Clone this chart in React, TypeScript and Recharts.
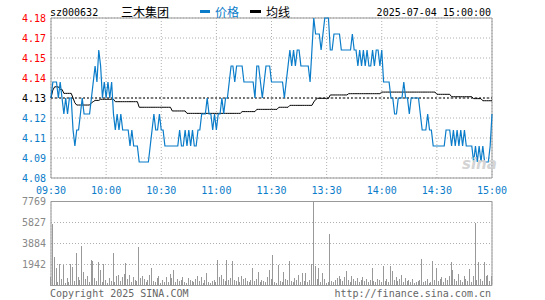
import React from "react";
import {
  ComposedChart,
  Line,
  Bar,
  XAxis,
  YAxis,
  CartesianGrid,
  ReferenceLine,
  ReferenceArea,
} from "recharts";

// Sina-style intraday chart colours.
const BLUE = "#0a7cc9";
const RED = "#ff0000";
const GRAY = "#999999";
const GRID = "#b0b0b0";
const MONO = "'DejaVu Sans Mono', monospace";
const CJK = "'Noto Sans CJK SC', sans-serif";

const PREV_CLOSE = 4.13;

// Minute index 0..240 (09:30-11:30, 13:00-15:00).
const timeTicks = [0, 30, 60, 90, 120, 150, 180, 210, 240];
const timeLabels = ["09:30", "10:00", "10:30", "11:00", "11:30", "13:30", "14:00", "14:30", "15:00"];

const priceTicks = [4.08, 4.0925, 4.105, 4.1175, 4.13, 4.1425, 4.155, 4.1675, 4.18];
const priceTickLabels = ["4.08", "4.09", "4.11", "4.12", "4.13", "4.14", "4.15", "4.17", "4.18"];
const pctTickLabels = ["-1.21%", "-0.91%", "-0.61%", "-0.30%", "0.00%", "+0.30%", "+0.61%", "+0.91%", "+1.21%"];

const volTicks = [0, 1942, 3884, 5827, 7769];
const volTickLabels = ["", "1942", "3884", "5827", "7769"];

// Minute close price.
const prices = [
  4.13, 4.14, 4.14, 4.14, 4.13, 4.14, 4.13, 4.12, 4.13, 4.12,
  4.13, 4.13, 4.11, 4.10, 4.11, 4.11, 4.12, 4.13, 4.12, 4.12,
  4.12, 4.12, 4.13, 4.14, 4.15, 4.14, 4.16, 4.15, 4.13, 4.14,
  4.13, 4.14, 4.13, 4.14, 4.12, 4.11, 4.12, 4.11, 4.12, 4.11,
  4.11, 4.11, 4.11, 4.10, 4.11, 4.10, 4.10, 4.10, 4.09, 4.09,
  4.09, 4.09, 4.09, 4.09, 4.10, 4.11, 4.12, 4.11, 4.11, 4.12,
  4.11, 4.11, 4.10, 4.10, 4.10, 4.10, 4.10, 4.10, 4.10, 4.10,
  4.11, 4.10, 4.10, 4.11, 4.10, 4.11, 4.10, 4.11, 4.10, 4.10,
  4.11, 4.11, 4.12, 4.12, 4.12, 4.13, 4.12, 4.12, 4.11, 4.12,
  4.11, 4.12, 4.12, 4.13, 4.12, 4.13, 4.13, 4.14, 4.15, 4.15,
  4.14, 4.15, 4.15, 4.15, 4.15, 4.14, 4.14, 4.14, 4.14, 4.14,
  4.14, 4.13, 4.15, 4.15, 4.14, 4.13, 4.14, 4.15, 4.15, 4.15,
  4.14, 4.14, 4.14, 4.14, 4.14, 4.14, 4.14, 4.13, 4.14, 4.15,
  4.16, 4.15, 4.16, 4.15, 4.16, 4.16, 4.15, 4.15, 4.15, 4.15,
  4.15, 4.14, 4.16, 4.18, 4.17, 4.17, 4.17, 4.16, 4.17, 4.18,
  4.18, 4.18, 4.16, 4.16, 4.17, 4.17, 4.17, 4.17, 4.16, 4.16,
  4.16, 4.16, 4.16, 4.16, 4.17, 4.16, 4.16, 4.15, 4.16, 4.15,
  4.16, 4.15, 4.16, 4.15, 4.15, 4.16, 4.15, 4.16, 4.16, 4.15,
  4.16, 4.14, 4.14, 4.14, 4.14, 4.13, 4.13, 4.12, 4.12, 4.13,
  4.13, 4.13, 4.14, 4.13, 4.13, 4.12, 4.13, 4.13, 4.13, 4.13,
  4.13, 4.12, 4.11, 4.11, 4.11, 4.12, 4.11, 4.11, 4.10, 4.10,
  4.10, 4.10, 4.10, 4.10, 4.10, 4.11, 4.11, 4.11, 4.10, 4.11,
  4.10, 4.11, 4.10, 4.11, 4.10, 4.11, 4.10, 4.10, 4.10, 4.10,
  4.09, 4.10, 4.09, 4.10, 4.09, 4.10, 4.09, 4.09, 4.09, 4.10,
  4.12,
];

// Running average price (均线).
const avgPrices = [
  4.130, 4.135, 4.137, 4.137, 4.137, 4.1354, 4.1354, 4.1329, 4.1329, 4.1329,
  4.1329, 4.1329, 4.130, 4.127, 4.1256, 4.1256, 4.1256, 4.1256, 4.1256, 4.1256,
  4.1256, 4.1256, 4.127, 4.1277, 4.1285, 4.1285, 4.1285, 4.1292, 4.1292, 4.1292,
  4.1292, 4.1292, 4.1292, 4.1292, 4.1292, 4.1277, 4.1277, 4.1277, 4.1277, 4.1277,
  4.1277, 4.1277, 4.1277, 4.1277, 4.1277, 4.1277, 4.1277, 4.1277, 4.1242, 4.1242,
  4.1242, 4.1242, 4.1242, 4.1242, 4.1242, 4.1242, 4.1242, 4.1242, 4.1242, 4.1242,
  4.1242, 4.1242, 4.1242, 4.1242, 4.1242, 4.1242, 4.1219, 4.1219, 4.1219, 4.1219,
  4.1219, 4.1219, 4.1219, 4.1219, 4.1204, 4.1204, 4.1204, 4.1204, 4.1204, 4.1204,
  4.1204, 4.1204, 4.1204, 4.1204, 4.1204, 4.1204, 4.1204, 4.1204, 4.1204, 4.1204,
  4.1204, 4.1204, 4.1204, 4.1204, 4.1204, 4.1204, 4.1204, 4.1204, 4.1204, 4.1204,
  4.1204, 4.1204, 4.1204, 4.1204, 4.1215, 4.1215, 4.1215, 4.1215, 4.1215, 4.1215,
  4.1215, 4.1215, 4.1229, 4.1229, 4.1229, 4.1229, 4.1229, 4.1229, 4.1229, 4.1229,
  4.1229, 4.1229, 4.1229, 4.1229, 4.1242, 4.1242, 4.1242, 4.1242, 4.1242, 4.1242,
  4.1254, 4.1254, 4.1254, 4.1254, 4.1254, 4.1254, 4.1254, 4.1254, 4.1254, 4.1254,
  4.1254, 4.1254, 4.1254, 4.1275, 4.129, 4.1298, 4.1298, 4.1298, 4.1298, 4.1298,
  4.1298, 4.1298, 4.1319, 4.1319, 4.1319, 4.1319, 4.1319, 4.1319, 4.1319, 4.1319,
  4.1319, 4.1319, 4.1327, 4.1327, 4.1327, 4.1327, 4.1327, 4.1327, 4.1327, 4.1327,
  4.1327, 4.1327, 4.1327, 4.1327, 4.1327, 4.1327, 4.1327, 4.1327, 4.1327, 4.1327,
  4.1337, 4.1337, 4.1337, 4.1337, 4.1337, 4.1337, 4.1337, 4.1337, 4.1337, 4.1337,
  4.1337, 4.1337, 4.1337, 4.1337, 4.1337, 4.1337, 4.1337, 4.1337, 4.1337, 4.1337,
  4.1337, 4.1337, 4.1337, 4.1337, 4.1337, 4.1337, 4.1337, 4.1337, 4.1337, 4.1337,
  4.1323, 4.1323, 4.1323, 4.1323, 4.1323, 4.1323, 4.1323, 4.1323, 4.1308, 4.1308,
  4.1308, 4.1308, 4.1308, 4.1308, 4.1308, 4.1308, 4.1308, 4.1308, 4.1308, 4.1308,
  4.1296, 4.1296, 4.1296, 4.1296, 4.1296, 4.1283, 4.1283, 4.1283, 4.1283, 4.1283,
  4.1283,
];

// Minute volume (lots).
const volumes = [
  800, 5710, 2640, 1660, 340, 2030, 600, 1930, 250, 720,
  300, 2030, 1720, 450, 3010, 800, 520, 3620, 1230, 600,
  900, 350, 2330, 2270, 700, 400, 2180, 1410, 300, 2030,
  500, 250, 650, 400, 3010, 300, 900, 1000, 400, 800,
  1100, 2090, 600, 950, 300, 800, 500, 400, 3530, 700,
  900, 600, 300, 500, 1000, 1660, 400, 300, 700, 900,
  200, 500, 300, 800, 350, 1100, 700, 1410, 300, 600,
  400, 500, 800, 300, 200, 700, 500, 400, 300, 600,
  900, 400, 800, 200, 500, 1170, 300, 200, 400, 500,
  300, 2330, 800, 1000, 600, 400, 2330, 500, 700, 2270,
  500, 400, 800, 300, 900, 600, 700, 400, 300, 500,
  1660, 400, 600, 1260, 300, 500, 400, 300, 800, 1410,
  600, 2790, 300, 200, 1870, 400, 300, 1260, 600, 500,
  2240, 400, 300, 700, 500, 950, 300, 1170, 400, 1170,
  300, 500, 1960, 7769, 1780, 600, 1630, 300, 1170, 640,
  200, 300, 4730, 400, 300, 500, 700, 900, 600, 400,
  800, 1350, 500, 300, 900, 600, 400, 700, 300, 500,
  800, 400, 600, 300, 500, 1660, 400, 300, 600, 500,
  300, 1780, 400, 600, 300, 1780, 1350, 500, 800, 400,
  600, 950, 300, 700, 400, 500, 300, 600, 200, 300,
  400, 500, 2460, 300, 400, 600, 200, 300, 2270, 500,
  1660, 400, 600, 800, 300, 700, 500, 900, 2150, 1410,
  600, 400, 1100, 500, 300, 900, 600, 400, 1570, 300,
  900, 5770, 500, 2180, 600, 400, 2180, 860, 1000, 400,
  900,
];

const data = prices.map((p, i) => ({ i, price: p, avg: avgPrices[i], vol: volumes[i] }));

function levelColor(v: number) {
  if (v > PREV_CLOSE + 1e-6) return RED;
  if (v < PREV_CLOSE - 1e-6) return BLUE;
  return "#000";
}

const PriceTick = (props: any) => {
  const { x, y, payload } = props;
  const idx = priceTicks.indexOf(payload.value);
  return (
    <text x={x} y={y} dy={3.6} textAnchor="end" fill={levelColor(payload.value)} fontSize={10} fontFamily={MONO}>
      {priceTickLabels[idx]}
    </text>
  );
};

const PctTick = (props: any) => {
  const { x, y, payload } = props;
  const idx = priceTicks.indexOf(payload.value);
  return (
    <text x={x} y={y} dy={3.6} textAnchor="start" fill={levelColor(payload.value)} fontSize={10} fontFamily={MONO}>
      {pctTickLabels[idx]}
    </text>
  );
};

const TimeTick = (props: any) => {
  const { x, y, payload } = props;
  const idx = timeTicks.indexOf(payload.value);
  return (
    <text x={x} y={y} dy={13.6} textAnchor="middle" fill={BLUE} fontSize={10} fontFamily={MONO}>
      {timeLabels[idx]}
    </text>
  );
};

const VolTick = (props: any) => {
  const { x, y, payload } = props;
  const idx = volTicks.indexOf(payload.value);
  if (!volTickLabels[idx]) return null;
  return (
    <text x={x} y={y} dy={3.6} textAnchor="end" fill="#888" fontSize={10} fontFamily={MONO}>
      {volTickLabels[idx]}
    </text>
  );
};

export default function App() {
  return (
    <div style={{ position: "relative", width: 545, height: 300, background: "#fff", overflow: "hidden" }}>
      <style>{`body{margin:0} .recharts-bar-rectangle path{shape-rendering:crispEdges}`}</style>

      {/* price panel */}
      <div style={{ position: "absolute", left: 0, top: 0 }}>
        <ComposedChart width={545} height={200} data={data} margin={{ top: 18, right: 0, bottom: 0, left: 0 }}>
          <CartesianGrid yAxisId="left" stroke={GRID} strokeDasharray="1 2" />
          <XAxis
            dataKey="i"
            type="number"
            domain={[0, 240]}
            ticks={timeTicks}
            interval={0}
            height={22}
            axisLine={false}
            tickLine={false}
            tickSize={0}
            tick={<TimeTick />}
          />
          <YAxis
            yAxisId="left"
            domain={[4.08, 4.18]}
            ticks={priceTicks}
            interval={0}
            width={51}
            axisLine={false}
            tickLine={false}
            tickSize={0}
            tickMargin={5}
            tick={<PriceTick />}
          />
          <YAxis
            yAxisId="right"
            orientation="right"
            domain={[4.08, 4.18]}
            ticks={priceTicks}
            interval={0}
            width={53}
            axisLine={false}
            tickLine={false}
            tickSize={0}
            tickMargin={3}
            tick={<PctTick />}
          />
          <ReferenceLine yAxisId="left" y={PREV_CLOSE} stroke="#000" strokeDasharray="2 2" />
          <Line
            yAxisId="left"
            dataKey="avg"
            type="linear"
            stroke="#000"
            strokeWidth={1}
            dot={false}
            isAnimationActive={false}
          />
          <Line
            yAxisId="left"
            dataKey="price"
            type="linear"
            stroke={BLUE}
            strokeWidth={1.2}
            dot={false}
            isAnimationActive={false}
          />
          <ReferenceArea yAxisId="left" x1={0} x2={240} y1={4.08} y2={4.18} fill="none" stroke={GRAY} strokeWidth={1} />
        </ComposedChart>
      </div>

      {/* volume panel */}
      <div style={{ position: "absolute", left: 0, top: 195 }}>
        <ComposedChart width={545} height={95} data={data} margin={{ top: 6.5, right: 53, bottom: 4.5, left: 0 }}>
          <CartesianGrid stroke={GRID} strokeDasharray="1 2" />
          <XAxis
            dataKey="i"
            type="number"
            domain={[0, 240]}
            ticks={timeTicks}
            interval={0}
            height={0}
            axisLine={false}
            tickLine={false}
            tick={false}
          />
          <YAxis
            domain={[0, 7769]}
            ticks={volTicks}
            interval={0}
            width={51}
            axisLine={false}
            tickLine={false}
            tickSize={0}
            tickMargin={5}
            tick={<VolTick />}
          />
          <Bar dataKey="vol" fill={GRAY} barSize={1} isAnimationActive={false} />
          <ReferenceArea x1={0} x2={240} y1={0} y2={7769} fill="none" stroke={GRAY} strokeWidth={1} />
        </ComposedChart>
      </div>

      {/* header, legend, footer */}
      <svg width={545} height={300} style={{ position: "absolute", left: 0, top: 0, pointerEvents: "none" }}>
        <text x={50} y={15.7} fontSize={10} fontFamily={MONO} fill="#000">sz000632</text>
        <text x={121} y={16.5} fontSize={12} fontFamily={CJK} fill="#000">三木集团</text>
        <rect x={200} y={10} width={10} height={3} fill={BLUE} />
        <text x={215} y={16.5} fontSize={12} fontFamily={CJK} fill={BLUE}>价格</text>
        <rect x={250} y={10} width={11} height={3} fill="#000" />
        <text x={266} y={16.5} fontSize={12} fontFamily={CJK} fill="#000">均线</text>
        <text x={491} y={15.7} fontSize={10} fontFamily={MONO} fill="#000" textAnchor="end">2025-07-04 15:00:00</text>
        <text x={462} y={169} fontSize={15} fontWeight="bold" fontStyle="italic" fontFamily="'DejaVu Sans', sans-serif" fill="#d4d4d4">sina</text>
        <text x={50} y={297} fontSize={10} fontFamily={MONO} fill="#666">Copyright 2025 SINA.COM</text>
        <text x={491} y={297} fontSize={10} fontFamily={MONO} fill="#666" textAnchor="end">http://finance.sina.com.cn</text>
      </svg>
    </div>
  );
}
